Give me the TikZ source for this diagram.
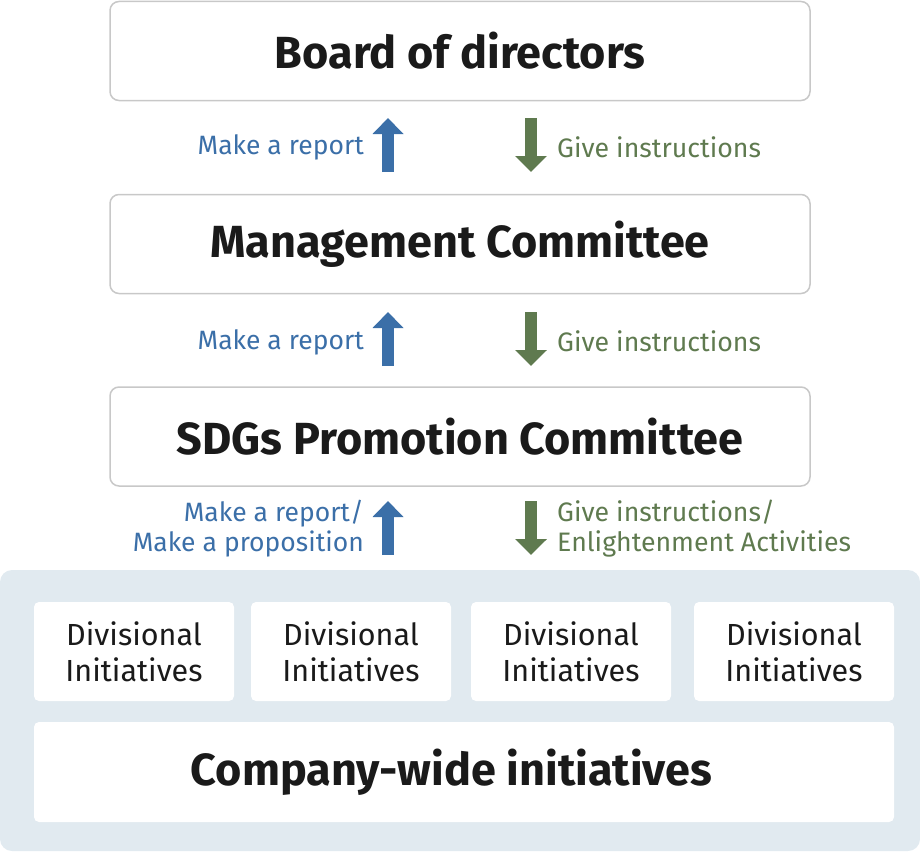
\documentclass[tikz,border=0pt]{standalone}
\usepackage{fontspec}
\setmainfont{Fira Sans}
\usetikzlibrary{arrows.meta}
\definecolor{bordergray}{HTML}{C8C8C8}
\definecolor{panelblue}{HTML}{E1EAF0}
\definecolor{repblue}{HTML}{3B6FA8}
\definecolor{insgreen}{HTML}{5F7A4F}
\definecolor{darktext}{HTML}{1A1A1A}
\begin{document}
\begin{tikzpicture}[x=1pt,y=-1pt,
  topbox/.style={draw=bordergray,line width=1.5pt,rounded corners=9pt,fill=white,
    minimum width=700pt,minimum height=99pt,inner sep=0pt,
    font=\bfseries\fontsize{45}{50}\selectfont,text=darktext},
  divbox/.style={fill=white,rounded corners=5pt,minimum width=200pt,minimum height=99pt,
    inner sep=0pt,align=center,font=\fontsize{30.5}{36}\selectfont,text=darktext},
  cwbox/.style={fill=white,rounded corners=5pt,minimum width=860pt,minimum height=100pt,
    inner sep=0pt,font=\bfseries\fontsize{45}{50}\selectfont,text=darktext},
  uparrow/.style={draw=repblue,line width=12pt,-{Triangle[width=30pt,length=16pt]}},
  downarrow/.style={draw=insgreen,line width=12pt,-{Triangle[width=31pt,length=16pt]}},
  replabel/.style={anchor=east,text=repblue,font=\fontsize{26.5}{30}\selectfont,align=right,inner sep=0pt},
  inslabel/.style={anchor=west,text=insgreen,font=\fontsize{26.7}{30}\selectfont,align=left,inner sep=0pt}
]
\useasboundingbox (0,0) rectangle (920,851);
% top boxes
\node[topbox] (board) at (460,51) {Board of directors};
\node[topbox] (mgmt) at (460,244) {Management Committee};
\node[topbox] (sdgs) at (460,436.5) {SDGs Promotion Committee};
% panel
\fill[panelblue,rounded corners=12pt] (0,570) rectangle (920,851);
\node[divbox] (d1) at (134,651.5) {Divisional\\Initiatives};
\node[divbox] (d2) at (351,651.5) {Divisional\\Initiatives};
\node[divbox] (d3) at (571,651.5) {Divisional\\Initiatives};
\node[divbox] (d4) at (794,651.5) {Divisional\\Initiatives};
\node[cwbox] (cw) at (464,772) {\hspace*{-25pt}Company-wide initiatives};
% arrows row 1
\coordinate (u1s) at (388,172); \coordinate (u1e) at (388,118);
\coordinate (g1s) at (531,118); \coordinate (g1e) at (531,172);
\draw[uparrow] (u1s) -- (u1e);
\draw[downarrow] (g1s) -- (g1e);
\node[replabel] (r1) at (364,147) {Make a report};
\node[inslabel] (i1) at (557,147) {Give instructions};
% arrows row 2
\coordinate (u2s) at (388,366); \coordinate (u2e) at (388,312);
\coordinate (g2s) at (531,312); \coordinate (g2e) at (531,366);
\draw[uparrow] (u2s) -- (u2e);
\draw[downarrow] (g2s) -- (g2e);
\node[replabel] (r2) at (364,342) {Make a report};
\node[inslabel] (i2) at (557,341) {Give instructions};
% arrows row 3
\coordinate (u3s) at (388,555); \coordinate (u3e) at (388,501);
\coordinate (g3s) at (531,501); \coordinate (g3e) at (531,555);
\draw[uparrow] (u3s) -- (u3e);
\draw[downarrow] (g3s) -- (g3e);
\node[replabel] (r3) at (364,529) {Make a report/\\Make a proposition};
\node[inslabel] (i3) at (557,529) {Give instructions/\\Enlightenment Activities};
\end{tikzpicture}
\end{document}
